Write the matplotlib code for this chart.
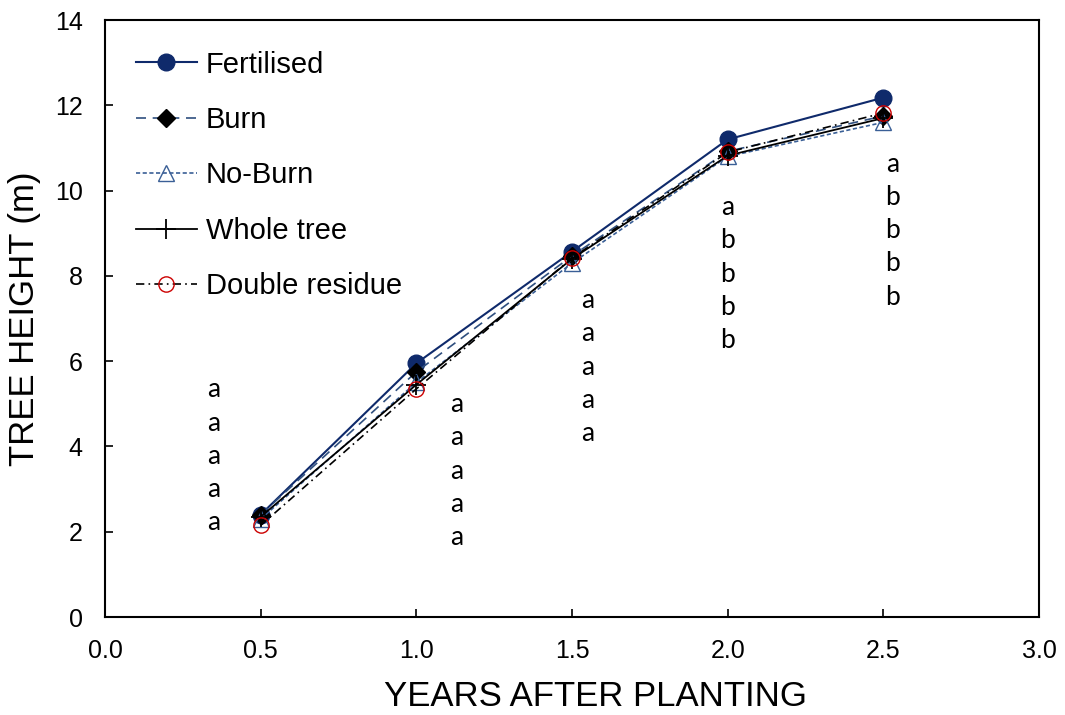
import matplotlib
matplotlib.use("Agg")
import matplotlib.pyplot as plt

plt.rcParams["font.family"] = ["Liberation Sans", "DejaVu Sans"]

years = [0.5, 1.0, 1.5, 2.0, 2.5]

fertilised = [2.40, 5.95, 8.57, 11.20, 12.18]
burn = [2.40, 5.75, 8.47, 10.92, 11.75]
no_burn = [2.30, 5.50, 8.30, 10.80, 11.60]
whole_tree = [2.35, 5.45, 8.40, 10.82, 11.70]
double_residue = [2.15, 5.35, 8.42, 10.90, 11.82]

# significance letters per year, listed top to bottom
letter_x = [0.35, 1.13, 1.55, 2.0, 2.53]
letter_top = [5.33, 4.98, 7.42, 9.60, 10.62]
letters = [
    ["a", "a", "a", "a", "a"],
    ["a", "a", "a", "a", "a"],
    ["a", "a", "a", "a", "a"],
    ["a", "b", "b", "b", "b"],
    ["a", "b", "b", "b", "b"],
]
letter_step = 0.78

fig = plt.figure(figsize=(10.65, 7.15), dpi=100)
ax = fig.add_axes([0.0986, 0.137, 0.877, 0.835])

navy = "#0f2a6b"
steel = "#3a5f96"

ax.plot(years, fertilised, color=navy, lw=1.5, marker="o", ms=12,
        mfc=navy, mec=navy, label="Fertilised")
ax.plot(years, burn, color="#2f4f7f", lw=1.2, ls=(0, (6, 4)), marker="D",
        ms=9, mfc="black", mec="black", label="Burn")
ax.plot(years, no_burn, color=steel, lw=1.2, ls=(0, (2.5, 1.5)), marker="^",
        ms=11, mfc="none", mec=steel, label="No-Burn")
ax.plot(years, whole_tree, color="black", lw=1.3, marker="+", ms=14,
        mew=1.3, label="Whole tree")
ax.plot(years, double_residue, color="black", lw=1.2,
        ls=(0, (5, 2.5, 1, 2.5)), marker="o", ms=11, mfc="none",
        mec="#cc0000", label="Double residue")

for x, top, col in zip(letter_x, letter_top, letters):
    for i, s in enumerate(col):
        ax.text(x, top - i * letter_step, s, fontsize=19, ha="center",
                va="center", family=["Lato", "DejaVu Sans"])

ax.set_xlim(0, 3.0)
ax.set_ylim(0, 14)
ax.set_xticks([0.0, 0.5, 1.0, 1.5, 2.0, 2.5, 3.0])
ax.set_xticklabels(["0.0", "0.5", "1.0", "1.5", "2.0", "2.5", "3.0"])
ax.set_yticks(range(0, 15, 2))
ax.tick_params(direction="in", labelsize=18, length=6, width=1.2)
ax.tick_params(axis="x", pad=16)
ax.tick_params(axis="y", pad=16)
for sp in ax.spines.values():
    sp.set_linewidth(1.5)

ax.set_xlabel("YEARS AFTER PLANTING", fontsize=25)
ax.xaxis.set_label_coords(0.525, -0.105)
ax.set_ylabel("TREE HEIGHT (m)", fontsize=25, labelpad=10)

ax.legend(loc="upper left", frameon=False, fontsize=21, handlelength=2.1,
          handletextpad=0.3, labelspacing=0.94, borderaxespad=0.65,
          bbox_to_anchor=(0.0, 1.0))

fig.savefig("out.png", dpi=100)
